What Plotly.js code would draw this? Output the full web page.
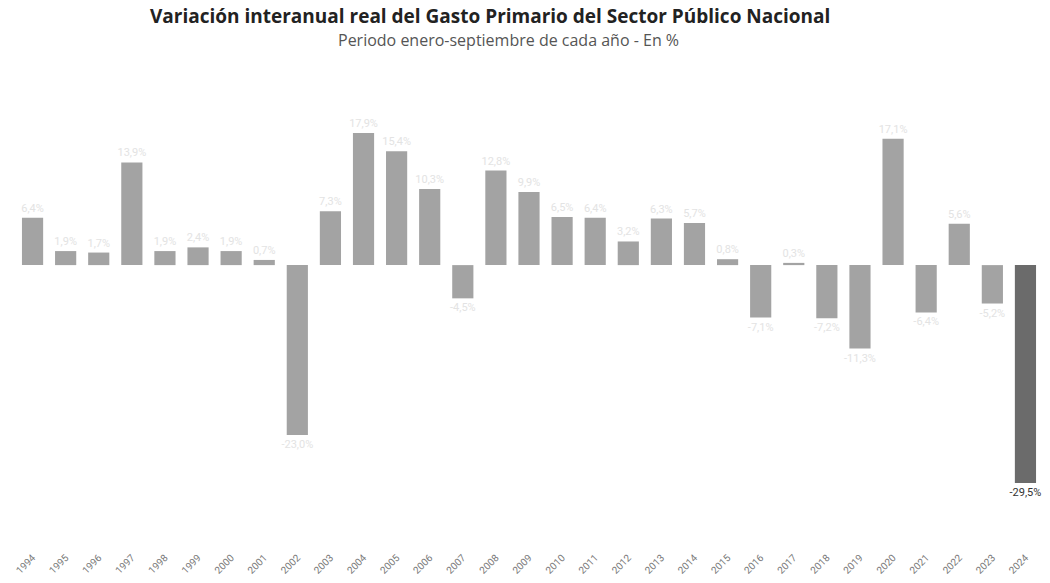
<!DOCTYPE html>
<html>
<head>
<meta charset="utf-8">
<script src="https://cdn.plot.ly/plotly-3.0.1.min.js"></script>
<style>
html,body{margin:0;padding:0;background:#fff;}
#chart{width:1050px;height:583px;}
</style>
</head>
<body>
<div id="chart"></div>
<script>
const years = ["1994","1995","1996","1997","1998","1999","2000","2001","2002","2003","2004","2005","2006","2007","2008","2009","2010","2011","2012","2013","2014","2015","2016","2017","2018","2019","2020","2021","2022","2023","2024"];
const values = [6.4,1.9,1.7,13.9,1.9,2.4,1.9,0.7,-23.0,7.3,17.9,15.4,10.3,-4.5,12.8,9.9,6.5,6.4,3.2,6.3,5.7,0.8,-7.1,0.3,-7.2,-11.3,17.1,-6.4,5.6,-5.2,-29.5];
const barColors = values.map((v,i)=> i===values.length-1 ? "#6b6b6b" : "#a3a3a3");
const labelColors = values.map((v,i)=> i===values.length-1 ? "#333333" : "#e3e3e3");
const labels = values.map(v => v.toFixed(1).replace(".", ",") + "%");

const trace = {
  type: "bar",
  x: years,
  y: values,
  marker: {color: barColors},
  width: 0.64,
  text: labels,
  textposition: "outside",
  constraintext: "none",
  cliponaxis: false,
  textfont: {family: "Liberation Sans Narrow, Roboto, sans-serif", size: 11, color: labelColors},
  hoverinfo: "x+y"
};

const layout = {
  width: 1050, height: 583,
  margin: {l: 16, r: 8, t: 110, b: 100},
  paper_bgcolor: "#ffffff",
  plot_bgcolor: "#ffffff",
  showlegend: false,
  bargap: 0.36,
  xaxis: {
    type: "category",
    tickangle: -45,
    ticklabelstandoff: 66,
    tickfont: {family: "Liberation Sans Narrow, Roboto, sans-serif", size: 10, color: "#777777"},
    showline: false, showgrid: false, zeroline: false, ticks: ""
  },
  yaxis: {
    range: [-29.5, 21],
    visible: false,
    showgrid: false,
    zeroline: false
  },
  annotations: [
    {text: "<b>Variación interanual real del Gasto Primario del Sector Público Nacional</b>",
     xref: "paper", yref: "paper", x: (490-16)/1026, y: 1, yshift: 94, showarrow: false,
     xanchor: "center", yanchor: "middle",
     font: {family: "Open Sans, sans-serif", size: 19, color: "#222222"}},
    {text: "Periodo enero-septiembre de cada año - En %",
     xref: "paper", yref: "paper", x: (508-16)/1026, y: 1, yshift: 70, showarrow: false,
     xanchor: "center", yanchor: "middle",
     font: {family: "Open Sans, sans-serif", size: 16, color: "#555555"}}
  ]
};

Plotly.newPlot("chart", [trace], layout, {displayModeBar: false, staticPlot: true});
</script>
</body>
</html>
